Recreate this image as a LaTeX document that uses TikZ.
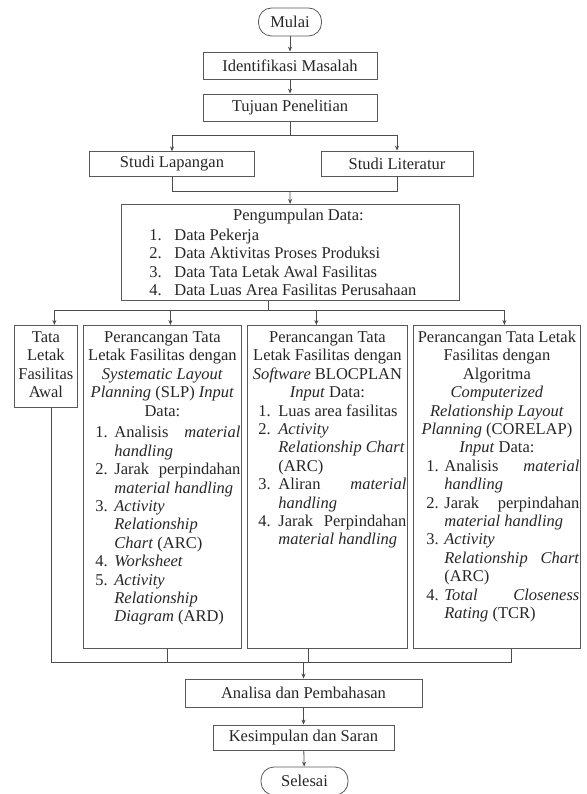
\documentclass[tikz,border=0pt]{standalone}
\usepackage{fontspec}
\setmainfont{Liberation Serif}
\usetikzlibrary{positioning,arrows.meta}
\tikzset{font=\fontsize{16.5}{18.4}\selectfont}

\newcommand{\numitem}[4]{\par\leftskip=#1\relax\rightskip=0pt plus 1fil\relax
	\hangindent=#2\relax\hangafter=1\let\\\newline
	\noindent\makebox[#2][l]{#3}#4}
\newcommand{\colbody}[3]{\parbox[t][#1][t]{#2}{\rule{0pt}{12pt}#3}}

\tikzset{
	proc/.style={draw=black!65, line width=0.8pt, text=black!85, inner sep=0pt, minimum height=27pt},
	term/.style={proc, rounded corners=13pt, minimum height=28pt},
	colbox/.style={draw=black!65, line width=0.8pt, text=black!85, anchor=north west, inner xsep=1pt, inner ysep=5pt},
	link/.style={draw=black!70, line width=0.8pt},
	flow/.style={link, -{Stealth[length=5pt,width=4pt]}}
}

\begin{document}
\begin{tikzpicture}[x=1pt, y=-1pt]
	\useasboundingbox (0,0) rectangle (586,794);

	\node[term, minimum width=63pt] (mulai) at (290,22) {Mulai};
	\node[proc, minimum width=174pt] (idm) at (290,65.5) {Identifikasi Masalah};
	\node[proc, minimum width=174pt] (tuj) at (290,107.5) {Tujuan Penelitian};

	\node[proc, minimum width=165pt, minimum height=24.5pt] (lap) at (172,164) {Studi Lapangan};
	\node[proc, minimum width=152pt, minimum height=25pt] (lit) at (397,163.5) {Studi Literatur};

	\node[colbox, inner xsep=2pt, inner ysep=4pt] (data) at (121,204) {\colbody{88pt}{334pt}{%
		\centering\hspace*{16pt}Pengumpulan Data:\par\vspace{1.5pt}
		\numitem{26pt}{25pt}{1.}{Data Pekerja}
		\numitem{26pt}{25pt}{2.}{Data Aktivitas Proses Produksi}
		\numitem{26pt}{25pt}{3.}{Data Tata Letak Awal Fasilitas}
		\numitem{26pt}{25pt}{4.}{Data Luas Area Fasilitas Perusahaan}}};

	\node[colbox] (awal) at (14,325) {\colbody{72pt}{61pt}{%
		\centering Tata\\ Letak\\ Fasilitas\\ Awal}};

	\node[colbox] (slp) at (83,325) {\colbody{313pt}{156pt}{%
		\centering Perancangan Tata\\ Letak Fasilitas dengan\\ \textit{Systematic Layout}\\
		\textit{Planning} (SLP) \textit{Input}\\ Data:\par\vspace{3.5pt}
		\numitem{11pt}{19pt}{1.}{Analisis \hfill \textit{material}\\ \textit{handling}}
		\numitem{11pt}{19pt}{2.}{Jarak \hfill perpindahan\\ \textit{material handling}}
		\numitem{11pt}{19pt}{3.}{\textit{Activity}\\ \textit{Relationship}\\ \textit{Chart} (ARC)}
		\numitem{11pt}{19pt}{4.}{\textit{Worksheet}}
		\numitem{11pt}{19pt}{5.}{\textit{Activity}\\ \textit{Relationship}\\ \textit{Diagram} (ARD)}}};

	\node[colbox] (blp) at (247,325) {\colbody{313pt}{158pt}{%
		\centering Perancangan Tata\\ Letak Fasilitas dengan\\ \textit{Software} BLOCPLAN\\
		\textit{Input} Data:\par
		\numitem{10pt}{20pt}{1.}{Luas area fasilitas}
		\numitem{10pt}{20pt}{2.}{\textit{Activity}\\ \textit{Relationship Chart}\\ (ARC)}
		\numitem{10pt}{20pt}{3.}{Aliran \hfill \textit{material}\\ \textit{handling}}
		\numitem{10pt}{20pt}{4.}{Jarak \hfill Perpindahan\\ \textit{material handling}}}};

	\node[colbox] (crl) at (413,325) {\colbody{313pt}{165pt}{%
		\centering Perancangan Tata Letak\\ Fasilitas dengan\\ Algoritma\\ \textit{Computerized}\\
		\textit{Relationship Layout}\\ \textit{Planning} (CORELAP)\\ \textit{Input} Data:\par
		\numitem{12pt}{18pt}{1.}{Analisis \hfill \textit{material}\\ \textit{handling}}
		\numitem{12pt}{18pt}{2.}{Jarak \hfill perpindahan\\ \textit{material handling}}
		\numitem{12pt}{18pt}{3.}{\textit{Activity}\\ \textit{Relationship \hfill Chart}\\ (ARC)}
		\numitem{12pt}{18pt}{4.}{\textit{Total \hfill Closeness}\\ \textit{Rating} (TCR)}}};

	\node[proc, minimum width=237pt, minimum height=28pt] (ana) at (303.5,693) {Analisa dan Pembahasan};
	\node[proc, minimum width=181pt, minimum height=25pt] (kes) at (303.5,737.5) {Kesimpulan dan Saran};
	\node[term, minimum width=87pt] (sel) at (304.5,781) {Selesai};

	\coordinate (j1) at (290,135);
	\coordinate (j2) at (290,191);
	\coordinate (j3) at (268,310);
	\coordinate (j4) at (303.5,662);

	\draw[flow] (mulai) -- (idm);
	\draw[flow] (idm) -- (tuj);
	\draw[link] (tuj) -- (j1);
	\draw[flow] (j1) -| (lap);
	\draw[flow] (j1) -| (lit);
	\draw[link] (lap) |- (j2);
	\draw[link] (lit) |- (j2);
	\draw[flow] (j2) -- (data);

	\draw[link] (j3 |- data.south) -- (j3);
	\draw[flow] (j3) -| ([xshift=8.5pt]awal.north);
	\draw[flow] (j3) -| ([xshift=8pt]slp.north);
	\draw[flow] (j3) -| ([xshift=-11pt]blp.north);
	\draw[flow] (j3) -| ([xshift=7.5pt]crl.north);

	\draw[link] ([xshift=5.5pt]awal.south) |- (j4);
	\draw[link] ([xshift=5pt]slp.south) |- (j4);
	\draw[link] ([xshift=-19pt]blp.south) |- (j4);
	\draw[link] ([xshift=14.5pt]crl.south) |- (j4);
	\draw[flow] (j4) -- (ana);
	\draw[flow] (ana) -- (kes);
	\draw[flow] (kes) -- (sel);
\end{tikzpicture}
\end{document}
